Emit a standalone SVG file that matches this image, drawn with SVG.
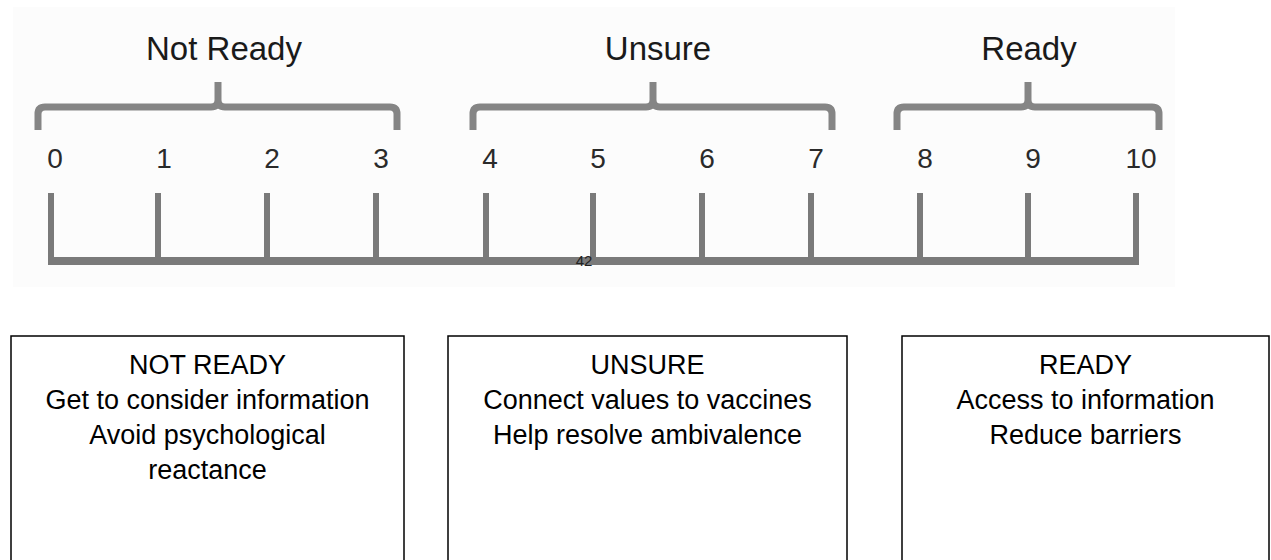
<svg xmlns="http://www.w3.org/2000/svg" width="1271" height="560" viewBox="0 0 1271 560">
<style>
.lbl{font-family:"Liberation Sans",Arial,sans-serif;font-size:33px;fill:#1a1a1a;text-anchor:middle}
.num{font-family:"Liberation Sans",Arial,sans-serif;font-size:28px;fill:#2a2a2a;text-anchor:middle}
.brace{fill:none;stroke:#858585;stroke-width:7;stroke-linejoin:round}
.tick{stroke:#7a7a7a;stroke-width:6}
.box{fill:#fff;stroke:#000;stroke-width:1.5}
.bt{font-family:"Liberation Sans",Arial,sans-serif;font-size:27px;fill:#000;text-anchor:middle}
</style>
<rect width="1271" height="560" fill="#fff"/>
<rect x="13" y="7" width="1162" height="280" fill="#fcfcfc"/>
<g id="scale">
<text class="lbl" x="224" y="60">Not Ready</text>
<text class="lbl" x="658" y="60">Unsure</text>
<text class="lbl" x="1029" y="60">Ready</text>
<path class="brace" d="M38 130V114Q38 107 45 107H211Q218 107 218 100V82M218 100Q218 107 225 107H390Q397 107 397 114V130"/>
<path class="brace" d="M473 130V114Q473 107 480 107H646Q653 107 653 100V82M653 100Q653 107 660 107H825Q832 107 832 114V130"/>
<path class="brace" d="M897 130V114Q897 107 904 107H1021Q1028 107 1028 100V82M1028 100Q1028 107 1035 107H1152Q1159 107 1159 114V130"/>
<g>
<text class="num" x="55" y="168">0</text>
<text class="num" x="164" y="168">1</text>
<text class="num" x="272" y="168">2</text>
<text class="num" x="381" y="168">3</text>
<text class="num" x="490" y="168">4</text>
<text class="num" x="598" y="168">5</text>
<text class="num" x="707" y="168">6</text>
<text class="num" x="816" y="168">7</text>
<text class="num" x="925" y="168">8</text>
<text class="num" x="1033" y="168">9</text>
<text class="num" x="1141" y="168">10</text>
</g>
<g>
<line class="tick" x1="51" y1="193" x2="51" y2="261"/>
<line class="tick" x1="158" y1="193" x2="158" y2="261"/>
<line class="tick" x1="267" y1="193" x2="267" y2="261"/>
<line class="tick" x1="376" y1="193" x2="376" y2="261"/>
<line class="tick" x1="486" y1="193" x2="486" y2="261"/>
<line class="tick" x1="593" y1="193" x2="593" y2="261"/>
<line class="tick" x1="702" y1="193" x2="702" y2="261"/>
<line class="tick" x1="811" y1="193" x2="811" y2="261"/>
<line class="tick" x1="920" y1="193" x2="920" y2="261"/>
<line class="tick" x1="1028" y1="193" x2="1028" y2="261"/>
<line class="tick" x1="1136" y1="193" x2="1136" y2="261"/>
<rect x="48" y="257" width="1091" height="8" fill="#7a7a7a"/>
</g>
<text x="584" y="266" font-family="Liberation Sans,Arial,sans-serif" font-size="15" fill="#222" text-anchor="middle">42</text>
</g>
<g id="box-not-ready">
<rect class="box" x="11" y="336" width="393" height="240"/>
<text class="bt" x="207.5" y="374">NOT READY</text>
<text class="bt" x="207.5" y="409">Get to consider information</text>
<text class="bt" x="207.5" y="444">Avoid psychological</text>
<text class="bt" x="207.5" y="479">reactance</text>
</g>
<g id="box-unsure">
<rect class="box" x="448" y="336" width="399" height="240"/>
<text class="bt" x="647.5" y="374">UNSURE</text>
<text class="bt" x="647.5" y="409">Connect values to vaccines</text>
<text class="bt" x="647.5" y="444">Help resolve ambivalence</text>
</g>
<g id="box-ready">
<rect class="box" x="902" y="336" width="367" height="240"/>
<text class="bt" x="1085.5" y="374">READY</text>
<text class="bt" x="1085.5" y="409">Access to information</text>
<text class="bt" x="1085.5" y="444">Reduce barriers</text>
</g>
</svg>
